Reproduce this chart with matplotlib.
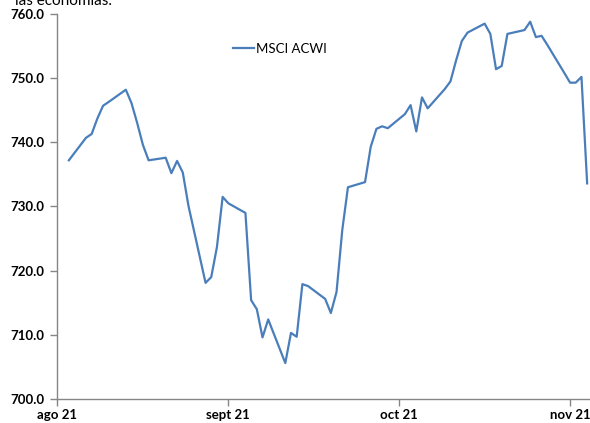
import numpy as np
import pandas as pd
import matplotlib
matplotlib.use("Agg")
import matplotlib.pyplot as plt

# MSCI ACWI, cierre diario (días hábiles) 27-ago-2021 a 26-nov-2021
fechas = pd.bdate_range("2021-08-27", "2021-11-26")
valores = [
    737.2,
    740.7, 741.3, 743.7, 745.7, 746.3,
    748.2, 746.1, 743.0, 739.6, 737.2,
    737.6, 735.2, 737.1, 735.3, 730.1,
    718.1, 719.0, 723.7, 731.5, 730.5,
    729.0, 715.4, 714.0, 709.6, 712.4,
    705.6, 710.3, 709.7, 717.9, 717.6,
    715.6, 713.4, 716.7, 726.3, 733.0,
    733.8, 739.3, 742.1, 742.5, 742.2,
    744.4, 745.8, 741.7, 747.0, 745.3,
    748.3, 749.5, 752.8, 755.8, 757.1,
    758.5, 756.9, 751.4, 751.9, 756.9,
    757.5, 758.8, 756.4, 756.6, 755.2,
    750.8, 749.3, 749.3, 750.2, 733.6,
]
serie = "MSCI ACWI"

tick_fechas = pd.to_datetime(["2021-08-25", "2021-09-24", "2021-10-24", "2021-11-23"])
tick_labels = ["ago 21", "sept 21", "oct 21", "nov 21"]

plt.rcParams['font.family'] = ['Lato', 'DejaVu Sans']

fig = plt.figure(figsize=(5.9, 4.23), dpi=100)
ax = fig.add_axes([57/590, 24/423, 533/590, 385/423])

ax.plot(fechas, valores, color='#4a7ebb', linewidth=1.6, label=serie)

ax.set_ylim(700, 760)
ax.set_yticks(np.arange(700, 761, 10))
ax.yaxis.set_major_formatter(matplotlib.ticker.FormatStrFormatter('%.1f'))
ax.set_xlim(pd.Timestamp("2021-08-24 22:00"), pd.Timestamp("2021-11-26 12:00"))
ax.set_xticks(tick_fechas)
ax.set_xticklabels(tick_labels)

for s in ['top', 'right']:
    ax.spines[s].set_visible(False)
for s in ['left', 'bottom']:
    ax.spines[s].set_color('#868686')
    ax.spines[s].set_linewidth(1.0)
ax.tick_params(axis='both', direction='out', length=5, color='#868686', width=1.0,
               labelsize=9.5, pad=4)
for t in ax.get_xticklabels() + ax.get_yticklabels():
    t.set_fontweight('bold')
ax.tick_params(axis='x', pad=2)

ax.legend(loc='upper left', bbox_to_anchor=(226/590, 1 - 36/423), bbox_transform=fig.transFigure,
          frameon=False, fontsize=9.5, handlelength=1.6, handletextpad=0.2, borderpad=0)

fig.text(15/590, 1 - 5/423, "las economías.", fontsize=11, va='baseline', ha='left')

fig.savefig("out.png", dpi=100)
